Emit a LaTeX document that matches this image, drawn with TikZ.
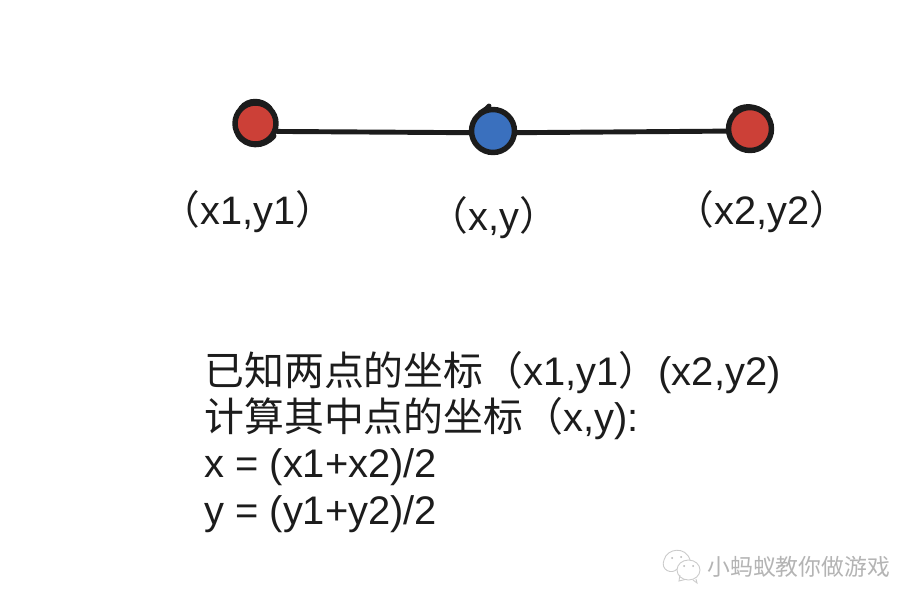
\documentclass[tikz,border=0pt]{standalone}
\usepackage{fontspec}
\setmainfont{Liberation Sans}
\newfontfamily\cjk{Noto Sans CJK SC}
\definecolor{SketchInk}{HTML}{1C1C1C}
\definecolor{DotRed}{HTML}{CC4037}
\definecolor{DotBlue}{HTML}{3A70BE}
\definecolor{MarkGray}{HTML}{B4B4B4}
\usetikzlibrary{arrows.meta,positioning}

\begin{document}
\begin{tikzpicture}[x=0.02cm,y=-0.02cm,
    dot/.style={circle,draw=SketchInk,line width=3.1pt,inner sep=0pt},
    sketch/.style={SketchInk,line width=2.8pt,line cap=round},
    label/.style={anchor=base,inner sep=0pt,text=SketchInk,font=\fontsize{22.6}{26}\selectfont},
    note/.style={anchor=base west,align=left,inner sep=0pt,text=SketchInk,font=\fontsize{22.7}{26.2}\selectfont},
    wechat/.style={draw=MarkGray!70,line width=0.5pt}]
      \useasboundingbox (0,0) rectangle (920,608);
      \fill[white] (0,0) rectangle (920,608);
      \node[dot,fill=DotRed,minimum size=0.82cm] (a) at (255.5,123.5) {};
      \node[dot,fill=DotBlue,minimum size=0.86cm] (m) at (493,131) {};
      \node[dot,fill=DotRed,minimum size=0.86cm] (b) at (750,129) {};
      \draw[sketch] (a.-20) -- (m.184);
      \draw[sketch] (m.-4) -- (b.185);
      % pen overshoot on the dots
      \draw[sketch] (241,108) .. controls (248,99) and (262,99) .. (270,108);
      \draw[sketch] (238,135) .. controls (246,148) and (264,148) .. (274,136);
      \draw[sketch] (480,113) .. controls (486,109) and (488,108) .. (489,106);
      \draw[sketch] (735,111) .. controls (742,105) and (756,104) .. (768,115);
      \node[label] (p1) at (248,224) {{\cjk （}x1,y1{\cjk ）}};
      \node[label] (pm) at (494,230) {{\cjk （}x,y{\cjk ）}};
      \node[label] (p2) at (762,224) {{\cjk （}x2,y2{\cjk ）}};
      \node[note] (txt) at (204,524) {{\cjk 已知两点的坐标（}x1,y1{\cjk ）}(x2,y2)\\
        {\cjk 计算其中点的坐标（}x,y):\\
        x = (x1+x2)/2\\
        y = (y1+y2)/2};
      % watermark
      \draw[wechat] (677,569) .. controls (672,575) and (660,570) .. (664,560) .. controls (667,548) and (686,546) .. (690,560);
      \draw[wechat,fill=white] (688.5,570) ellipse (11.5 and 10);
      \draw[wechat] (680,575) -- (679,581) -- (685,579.5);
      \draw[wechat] (696,579) -- (697,583) -- (693,580);
      \fill[MarkGray] (672,558) circle (1) (681,557) circle (1) (684,566) circle (1) (693,566) circle (1);
      \node[anchor=base west,inner sep=0pt,text=MarkGray,font=\cjk\fontsize{13}{13}\selectfont] (mark) at (707,575) {小蚂蚁教你做游戏};
    \end{tikzpicture}
\end{document}
